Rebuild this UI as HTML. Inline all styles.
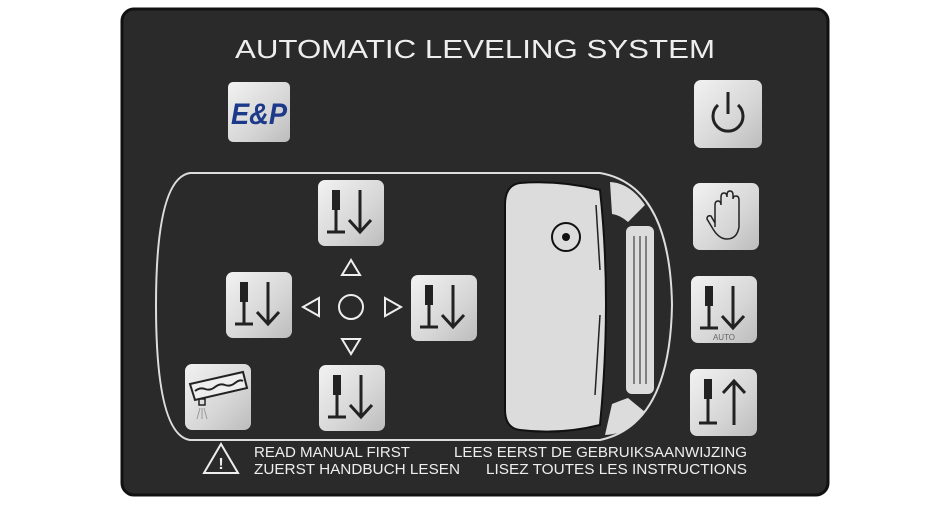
<!DOCTYPE html>
<html><head><style>
html,body{margin:0;padding:0;background:#fff;width:938px;height:506px;overflow:hidden}
svg{display:block}
text{font-family:"Liberation Sans",sans-serif}
</style></head><body>
<svg width="938" height="506" viewBox="0 0 938 506" xmlns="http://www.w3.org/2000/svg">
<defs>
<linearGradient id="btn" x1="0" y1="0" x2="1" y2="1">
<stop offset="0" stop-color="#f2f2f2"/><stop offset="0.6" stop-color="#d6d6d6"/><stop offset="1" stop-color="#bcbcbc"/>
</linearGradient>
<g id="jack">
<rect x="14" y="10" width="8" height="20" fill="#222"/>
<line x1="18" y1="30" x2="18" y2="52" stroke="#222" stroke-width="3"/>
<line x1="9" y1="52" x2="27" y2="52" stroke="#222" stroke-width="3"/>
<line x1="42" y1="10" x2="42" y2="52" stroke="#222" stroke-width="3"/>
<polyline points="31,40 42,52 53,40" fill="none" stroke="#222" stroke-width="3"/>
</g>
</defs>
<rect x="122" y="9" width="706" height="486" rx="12" fill="#2a2a2a" stroke="#111" stroke-width="3"/>
<text x="235" y="58" font-size="26" fill="#eee" textLength="480" lengthAdjust="spacingAndGlyphs">AUTOMATIC LEVELING SYSTEM</text>
<!-- logo -->
<rect x="228" y="82" width="62" height="60" rx="5" fill="url(#btn)"/>
<text x="259" y="124" text-anchor="middle" font-size="30" font-weight="bold" font-style="italic" fill="#1d3a8a" textLength="56" lengthAdjust="spacingAndGlyphs">E&amp;P</text>
<!-- outline -->
<path d="M190 173 L600 173 Q670 185 672 305 Q670 425 600 440 L190 440 Q156 435 156 305 Q156 178 190 173 Z" fill="none" stroke="#ddd" stroke-width="2"/>
<!-- vehicle -->
<path d="M520 183 Q560 180 600 190 Q612 300 600 425 Q560 435 520 430 Q505 428 505 410 L505 205 Q505 185 520 183 Z" fill="#dcdcdc" stroke="#111" stroke-width="2"/>
<line x1="596" y1="205" x2="600" y2="270" stroke="#222" stroke-width="1.5"/>
<line x1="600" y1="315" x2="595" y2="395" stroke="#222" stroke-width="1.5"/>
<circle cx="566" cy="237" r="14" fill="none" stroke="#111" stroke-width="2"/>
<circle cx="566" cy="237" r="4" fill="#111"/>
<path d="M610 182 Q630 183 645 205 L628 222 Q620 215 612 214 Z" fill="#dcdcdc"/>
<rect x="626" y="226" width="28" height="168" rx="6" fill="#dcdcdc"/>
<line x1="634" y1="236" x2="634" y2="384" stroke="#222"/><line x1="640" y1="236" x2="640" y2="384" stroke="#222"/><line x1="646" y1="236" x2="646" y2="384" stroke="#222"/>
<path d="M612 404 Q622 400 628 398 L645 412 Q630 434 605 435 Z" fill="#dcdcdc"/>
<!-- jack buttons -->
<g transform="translate(318,180)"><rect width="66" height="66" rx="7" fill="url(#btn)"/><use href="#jack"/></g>
<g transform="translate(226,272)"><rect width="66" height="66" rx="7" fill="url(#btn)"/><use href="#jack"/></g>
<g transform="translate(411,275)"><rect width="66" height="66" rx="7" fill="url(#btn)"/><use href="#jack"/></g>
<g transform="translate(319,365)"><rect width="66" height="66" rx="7" fill="url(#btn)"/><use href="#jack"/></g>
<!-- direction arrows -->
<g fill="none" stroke="#eee" stroke-width="2">
<polygon points="351,260 342,275 360,275"/>
<polygon points="351,354 342,339 360,339"/>
<polygon points="303,307 319,298 319,316"/>
<polygon points="401,307 385,298 385,316"/>
<circle cx="351" cy="307" r="12"/>
</g>
<!-- tank -->
<g transform="translate(185,364)"><rect width="66" height="66" rx="7" fill="url(#btn)"/>
<path d="M5 20 L58 8 L62 24 L10 36 Z" fill="#eee" stroke="#222" stroke-width="2"/>
<path d="M10 27 q5 -4 10 -2 q5 2 10 -2 q5 -4 10 -2 q5 2 10 -2 q5 -4 8 -2" fill="none" stroke="#222" stroke-width="2"/>
<rect x="14" y="35" width="6" height="6" fill="none" stroke="#222" stroke-width="1.5"/>
<path d="M15 44 L12 55 M17 44 L17 55 M19 44 L22 55" stroke="#999" stroke-width="1"/>
</g>
<!-- right buttons -->
<g transform="translate(694,80)"><rect width="68" height="68" rx="7" fill="url(#btn)"/>
<path d="M24 25 A15 15 0 1 0 44 25" fill="none" stroke="#222" stroke-width="3"/>
<line x1="34" y1="12" x2="34" y2="34" stroke="#222" stroke-width="3"/></g>
<g transform="translate(693,183)"><rect width="66" height="67" rx="7" fill="url(#btn)"/>
<path d="M22 44 L22 22 Q22 18 25 18 Q28 18 28 22 L28 14 Q28 10 31 10 Q34 10 34 14 L34 12 Q34 8 37 8 Q40 8 40 12 L40 16 Q40 13 43 13 Q46 13 46 17 L46 44 Q44 56 34 56 Q26 56 20 46 L14 36 Q14 32 18 33 L22 40" fill="none" stroke="#222" stroke-width="1.5"/></g>
<g transform="translate(691,276)"><rect width="66" height="67" rx="7" fill="url(#btn)"/><use href="#jack"/>
<text x="33" y="64" text-anchor="middle" font-size="8" fill="#666">AUTO</text></g>
<g transform="translate(690,369)"><rect width="67" height="67" rx="7" fill="url(#btn)"/>
<rect x="14" y="10" width="8" height="20" fill="#222"/>
<line x1="18" y1="30" x2="18" y2="54" stroke="#222" stroke-width="3"/>
<line x1="9" y1="54" x2="27" y2="54" stroke="#222" stroke-width="3"/>
<line x1="44" y1="12" x2="44" y2="56" stroke="#222" stroke-width="3"/>
<polyline points="33,24 44,12 55,24" fill="none" stroke="#222" stroke-width="3"/></g>
<!-- warning -->
<polygon points="221,444 204,473 238,473" fill="none" stroke="#eee" stroke-width="2"/>
<text x="221" y="469" text-anchor="middle" font-size="16" font-weight="bold" fill="#eee">!</text>
<g font-size="14.5" fill="#eee">
<text x="254" y="457" textLength="156" lengthAdjust="spacingAndGlyphs">READ MANUAL FIRST</text>
<text x="254" y="474" textLength="206" lengthAdjust="spacingAndGlyphs">ZUERST HANDBUCH LESEN</text>
<text x="454" y="457" textLength="293" lengthAdjust="spacingAndGlyphs">LEES EERST DE GEBRUIKSAANWIJZING</text>
<text x="486" y="474" textLength="261" lengthAdjust="spacingAndGlyphs">LISEZ TOUTES LES INSTRUCTIONS</text>
</g>
</svg>
</body></html>
